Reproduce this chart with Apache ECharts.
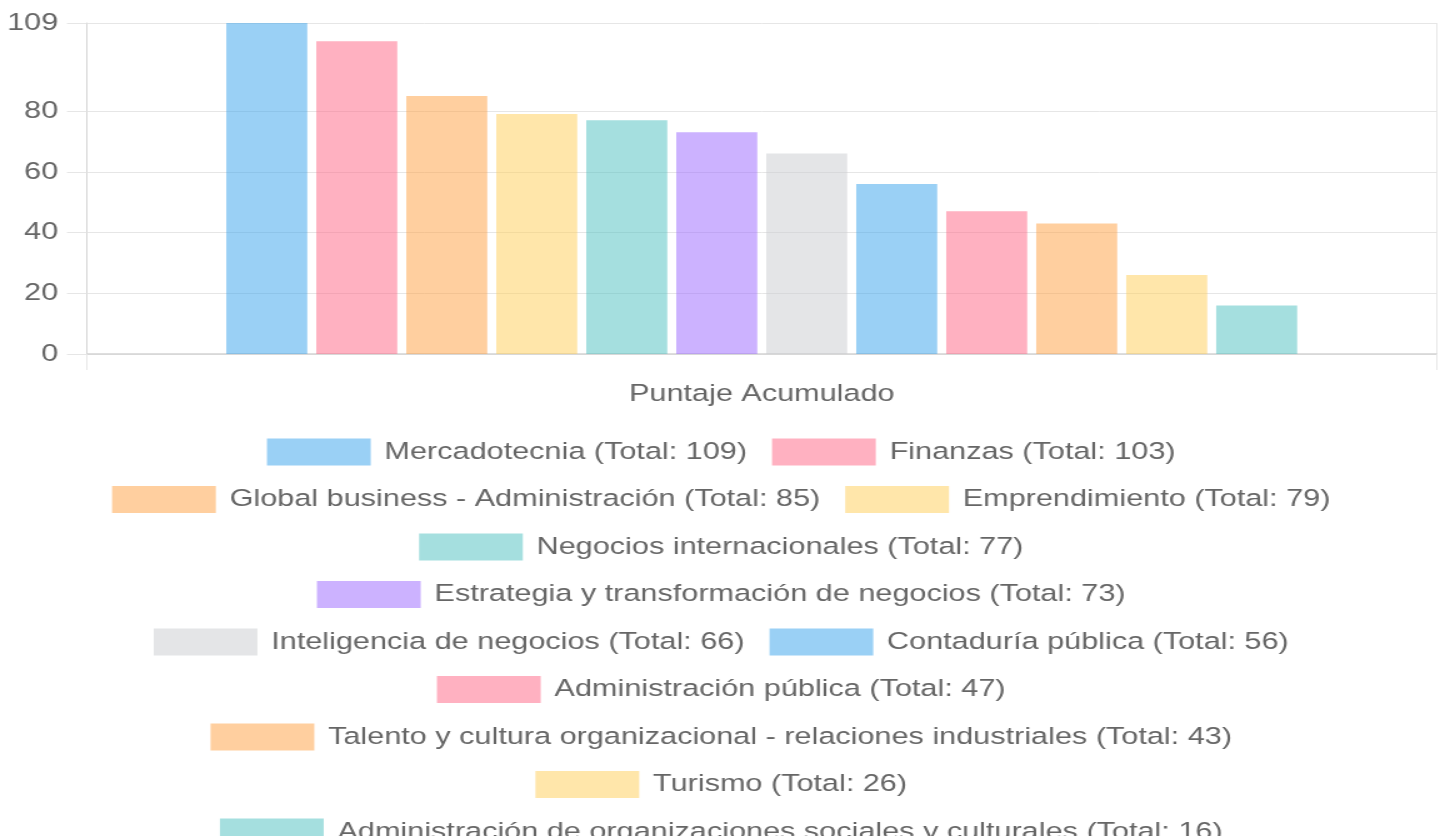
<!DOCTYPE html>
<html>
<head>
<meta charset="utf-8">
<script src="https://cdn.jsdelivr.net/npm/echarts@6/dist/echarts.min.js"></script>
<style>
  html, body { margin: 0; padding: 0; background: #fff; overflow: hidden; }
  /* the reference is stretched sideways, so the chart is drawn narrower and scaled */
  #chart { width: 1154.4px; height: 836px; transform: scaleX(1.25); transform-origin: 0 0; }
</style>
</head>
<body>
<div id="chart"></div>
<script>
var CATEGORY = ['Puntaje Acumulado'];
var NAMES = [
  'Mercadotecnia', 'Finanzas', 'Global business - Administración', 'Emprendimiento',
  'Negocios internacionales', 'Estrategia y transformación de negocios',
  'Inteligencia de negocios', 'Contaduría pública', 'Administración pública',
  'Talento y cultura organizacional - relaciones industriales', 'Turismo',
  'Administración de organizaciones sociales y culturales'
];
var TOTALS = [109, 103, 85, 79, 77, 73, 66, 56, 47, 43, 26, 16];
var Y_TICKS = [0, 20, 40, 60, 80, 109];
var LEGEND_ROWS = [
  [0, 1], [2, 3], [4], [5], [6, 7], [8], [9], [10], [11]
];

var PALETTE = [
  'rgba(54,162,235,0.5)', 'rgba(255,99,132,0.5)', 'rgba(255,159,64,0.5)',
  'rgba(255,205,86,0.5)', 'rgba(75,192,192,0.5)', 'rgba(153,102,255,0.5)',
  'rgba(201,203,207,0.5)'
];
var FONT = 'Liberation Sans, Arial, sans-serif';
var TEXT = '#666';
var GRID = '#e6e6e6';

var chart = echarts.init(document.getElementById('chart'), null, { renderer: 'canvas' });

var series = NAMES.map(function (name, i) {
  return {
    name: name,
    type: 'bar',
    data: [TOTALS[i]],
    barWidth: 64.8,
    barGap: '11.1%',
    itemStyle: { color: PALETTE[i % PALETTE.length] }
  };
});

// one legend per row so every row is centred like the original
var legends = LEGEND_ROWS.map(function (row, r) {
  return {
    left: 'center',
    top: 433.5 + r * 47.5,
    orient: 'horizontal',
    data: row.map(function (i) { return NAMES[i]; }),
    icon: 'rect',
    itemWidth: 83,
    itemHeight: 27,
    itemGap: 20,
    selectedMode: false,
    formatter: function (name) {
      return name + ' (Total: ' + TOTALS[NAMES.indexOf(name)] + ')';
    },
    textStyle: { fontFamily: FONT, fontSize: 24.5, color: TEXT, padding: [0, 0, 0, 6] }
  };
});

chart.setOption({
  animation: false,
  grid: { left: 69.6, right: 4.8, top: 23, bottom: 482, containLabel: false },
  legend: legends,
  xAxis: {
    type: 'category',
    data: CATEGORY,
    axisLine: { lineStyle: { color: '#d4d4d4', width: 1.5 } },
    axisTick: { show: true, length: 16, lineStyle: { color: GRID } },
    splitLine: { show: true, lineStyle: { color: GRID } },
    axisLabel: { fontFamily: FONT, fontSize: 24.5, color: TEXT, margin: 28 }
  },
  yAxis: {
    type: 'value',
    min: 0,
    max: 109,
    axisLine: { show: true, lineStyle: { color: '#d4d4d4' } },
    axisTick: { show: true, length: 16, lineStyle: { color: GRID }, customValues: Y_TICKS },
    splitLine: { show: true, lineStyle: { color: GRID } },
    axisLabel: { fontFamily: FONT, fontSize: 24.5, color: TEXT, margin: 23, customValues: Y_TICKS }
  },
  series: series
});
</script>
</body>
</html>
